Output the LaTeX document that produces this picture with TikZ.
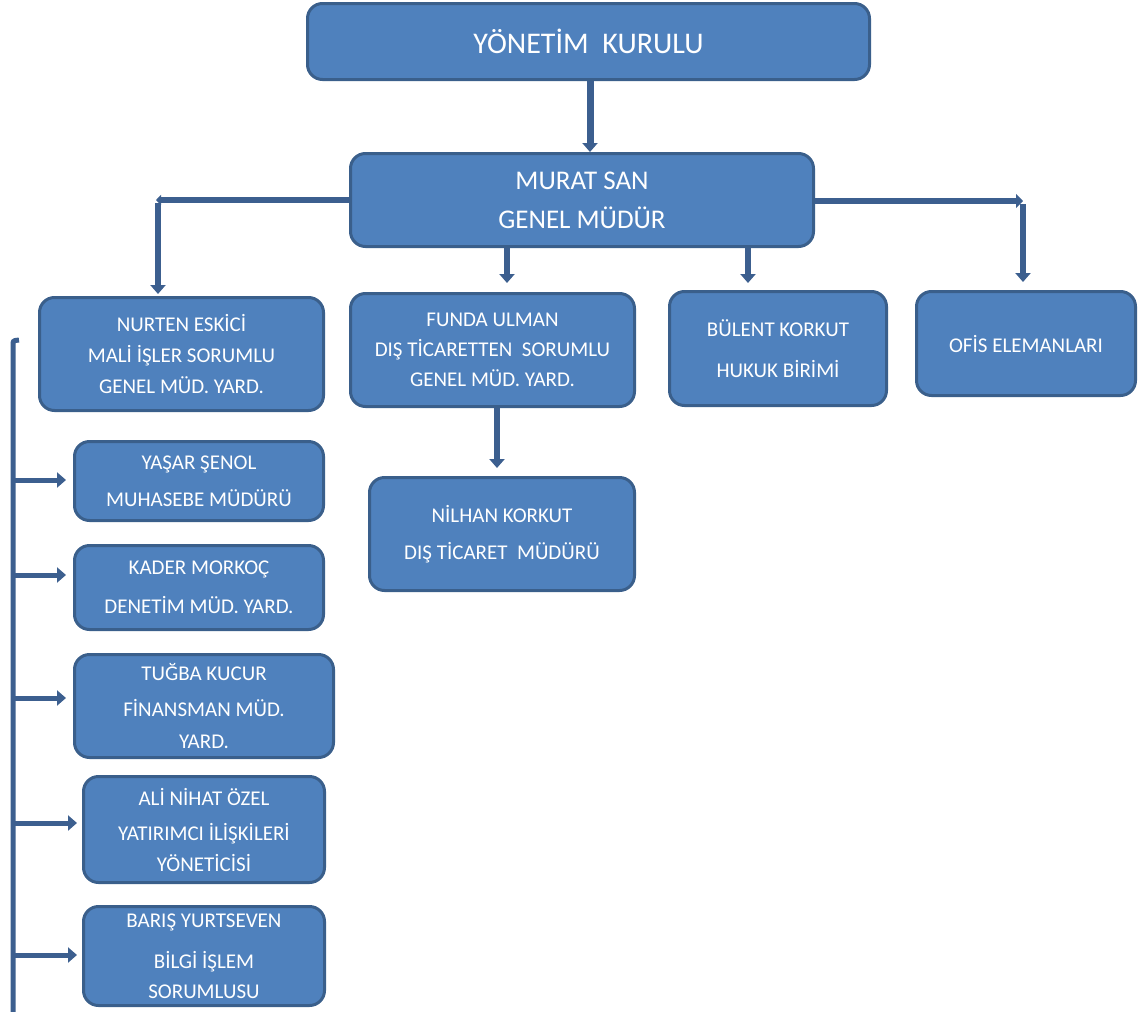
\documentclass[tikz,border=0pt]{standalone}
\usepackage{fontspec}
\setmainfont{Carlito}
\usetikzlibrary{arrows.meta}
\definecolor{boxfill}{HTML}{4F81BD}
\definecolor{boxline}{HTML}{3A5F8B}
\definecolor{connline}{HTML}{3C5F8F}
\begin{document}
\begin{tikzpicture}[x=1pt,y=-1pt,
  orgbox/.style={draw=boxline, line width=3pt, fill=boxfill, rounded corners=15pt,
    text=white, align=center, inner sep=0pt, font=\fontsize{21}{31}\selectfont},
  conn/.style={draw=connline, line width=6pt, -{Triangle[width=15pt,length=9pt]}},
  sideconn/.style={draw=connline, line width=5pt, -{Triangle[width=15pt,length=9pt]}},
  tinytip/.style={draw=connline, line width=6pt, -{Triangle[width=10pt,length=5pt]}}
]
\useasboundingbox (0,0) rectangle (1138,1012);

% boxes
\node (top) [orgbox, minimum width=562pt, minimum height=76pt, font=\fontsize{30}{36}\selectfont] at (588.5,41.5) {YÖNETİM\ \ KURULU};
\node (murat) [orgbox, minimum width=463pt, minimum height=93pt, font=\fontsize{27}{39}\selectfont] at (582,200) {MURAT SAN\\GENEL MÜDÜR};
\node (nurten) [orgbox, minimum width=284pt, minimum height=113pt] at (181.5,354) {NURTEN ESKİCİ\\MALİ İŞLER SORUMLU\\GENEL MÜD. YARD.};
\node (funda) [orgbox, minimum width=284pt, minimum height=113pt] at (492.5,350) {FUNDA ULMAN\\[-1pt]DIŞ TİCARETTEN\ \ SORUMLU\\[-1pt]GENEL MÜD. YARD.};
\node (bulent) [orgbox, minimum width=217pt, minimum height=114pt] at (778,348.5) {BÜLENT KORKUT\\[10pt]HUKUK BİRİMİ};
\node (ofis) [orgbox, minimum width=219pt, minimum height=104pt] at (1026,343.5) {OFİS ELEMANLARI};
\node (nilhan) [orgbox, minimum width=265pt, minimum height=113pt] at (502,534) {NİLHAN KORKUT\\[6pt]DIŞ TİCARET\ \ MÜDÜRÜ};
\node (yasar) [orgbox, minimum width=249pt, minimum height=79pt] at (199,481) {YAŞAR ŞENOL\\[6pt]MUHASEBE MÜDÜRÜ};
\node (kader) [orgbox, minimum width=249pt, minimum height=84pt] at (199,587.5) {KADER MORKOÇ\\[8pt]DENETİM MÜD. YARD.};
\node (tugba) [orgbox, minimum width=259pt, minimum height=103pt] at (204,706) {TUĞBA KUCUR\\[5pt]FİNANSMAN MÜD.\\[1pt]YARD.};
\node (ali) [orgbox, minimum width=241pt, minimum height=106pt] at (204,829.5) {ALİ NİHAT ÖZEL\\[4pt]YATIRIMCI İLİŞKİLERİ\\YÖNETİCİSİ};
\node (baris) [orgbox, minimum width=241pt, minimum height=99pt] at (204,956) {BARIŞ YURTSEVEN\\[10pt]BİLGİ İŞLEM\\[-1pt]SORUMLUSU};

% top connector
\draw[conn, line width=7pt] (top.south) ++(1.5,0) coordinate (t0) -- (t0 |- murat.north);

% left elbow
\coordinate (cL) at (158,200);
\draw[tinytip] (murat.west) -- ([xshift=-2pt]cL);
\draw[conn, shorten >=2pt] ([yshift=-3pt]cL) -- (cL |- nurten.north);

% right elbow
\coordinate (cR) at (1023,201);
\draw[conn, -{Triangle[width=14pt,length=7pt]}] (murat.east |- cR) -- (cR);
\draw[conn, shorten >=8pt] ([yshift=-3pt]cR) -- (cR |- ofis.north);

% middle connectors
\coordinate (m1) at (507,248);
\coordinate (m2) at (748,248);
\draw[conn, shorten >=9pt] (m1) -- (m1 |- funda.north);
\draw[conn, shorten >=7pt] (m2) -- (m2 |- bulent.north);
\coordinate (f1) at (497,408);
\draw[conn, shorten >=8pt] (f1) -- (f1 |- nilhan.north);

% left bracket
\coordinate (bTop) at (13,343);
\coordinate (bBot) at (13,1014);
\draw[draw=connline, line width=5pt] (bBot) -- (bTop) to[out=90,in=180] ++(6,-3);
\coordinate (aY) at (13,480);
\coordinate (aK) at (13,575);
\coordinate (aT) at (13,698);
\coordinate (aA) at (13,823);
\coordinate (aB) at (13,955);
\draw[sideconn, shorten >=7pt] (aY) -- (aY -| yasar.west);
\draw[sideconn, shorten >=7pt] (aK) -- (aK -| kader.west);
\draw[sideconn, shorten >=7pt] (aT) -- (aT -| tugba.west);
\draw[sideconn, shorten >=5pt] (aA) -- (aA -| ali.west);
\draw[sideconn, shorten >=5pt] (aB) -- (aB -| baris.west);
\end{tikzpicture}
\end{document}
